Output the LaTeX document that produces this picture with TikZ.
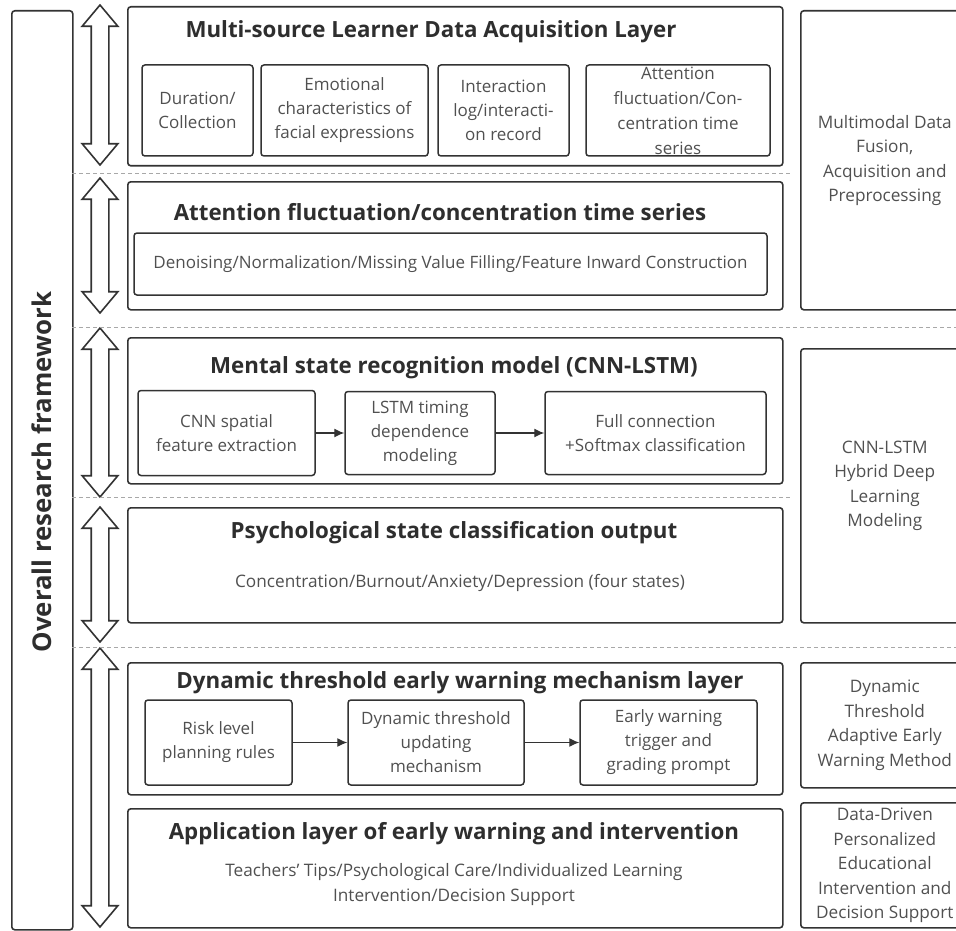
\documentclass[tikz,border=0pt]{standalone}
\usepackage{fontspec}
\setmainfont{Open Sans}
\usetikzlibrary{arrows.meta, positioning, shapes.arrows}

\definecolor{edge}{HTML}{333333}
\definecolor{ink}{HTML}{2E2E2E}
\definecolor{soft}{HTML}{505050}
\definecolor{sep}{HTML}{A8A8A8}

\begin{document}
\begin{tikzpicture}[
    x=1pt, y=-1pt,
    layer/.style={draw=edge, line width=1.6pt, rounded corners=3pt, minimum width=655pt, anchor=north west, inner sep=0pt},
    part/.style={draw=edge, line width=1.5pt, rounded corners=3pt, align=center, text=soft, inner sep=1pt, font=\fontsize{17}{24}\selectfont},
    side/.style={draw=edge, line width=1.6pt, rounded corners=3pt, anchor=north west, minimum width=168pt, align=center, text=soft, font=\fontsize{17.2}{24.5}\selectfont},
    head/.style={font=\bfseries\fontsize{22.3}{26}\selectfont, text=ink},
    plain/.style={align=center, text=soft, font=\fontsize{17.2}{25}\selectfont},
    updown/.style={double arrow, draw=edge, line width=1.6pt, rotate=90, inner sep=0pt, inner ysep=8pt, double arrow head extend=9pt, double arrow tip angle=80},
    sepline/.style={draw=sep, line width=0.8pt, dash pattern=on 4pt off 3pt},
    >={Latex[length=10pt, width=9pt]}
]
\useasboundingbox (0,0) rectangle (956,931);

\node[draw=edge, line width=1.6pt, rounded corners=3pt, anchor=north west, minimum width=61pt, minimum height=919pt] (frame) at (11,10) {};
\node[rotate=90, font=\bfseries\fontsize{25.8}{28}\selectfont, text=ink] (frameT) at (42,472) {Overall research framework};

\node[updown, minimum height=160pt] (ud1) at (100,85) {};
\node[updown, minimum height=135pt] (ud2) at (100,245.5) {};
\node[updown, minimum height=169pt] (ud3) at (100,412.5) {};
\node[updown, minimum height=135pt] (ud4) at (100,574.5) {};
\node[updown, minimum height=279pt] (ud5) at (100,787.5) {};

\draw[sepline] (72,173) -- (790,173);
\draw[sepline] (72,327) -- (956,327);
\draw[sepline] (72,497) -- (790,497);
\draw[sepline] (72,647) -- (956,647);

\node[layer, minimum height=159pt] (acq) at (127,6) {};
\node[head] (acqT) at (431,32) {Multi-source Learner Data Acquisition Layer};
\node[part, minimum width=111pt, minimum height=91pt] (dur) at (197.5,110.5) {Duration/\\Collection};
\node[part, minimum width=167pt, minimum height=91pt] (emo) at (344.5,110.5) {Emotional\\characteristics of\\facial expressions};
\node[part, minimum width=131pt, minimum height=91pt] (log) at (503.5,110.5) {Interaction\\log/interacti-\\on record};
\node[part, minimum width=184pt, minimum height=91pt, inner ysep=0pt, font=\fontsize{17}{25}\selectfont] (att) at (678,110.5) {Attention\\fluctuation/Con-\\centration time\\series};

\node[layer, minimum height=128pt] (pre) at (127,181) {};
\node[head] (preT) at (440,212) {Attention fluctuation/concentration time series};
\node[part, minimum width=633pt, minimum height=62pt] (den) at (450.5,264) {Denoising/Normalization/Missing Value Filling/Feature Inward Construction};

\node[layer, minimum height=146pt] (rec) at (127,337) {};
\node[head] (recT) at (454,368) {Mental state recognition model (CNN-LSTM)};
\node[part, minimum width=177pt, minimum height=85pt] (cnn) at (226.5,433) {CNN spatial\\feature extraction};
\node[part, minimum width=150pt, minimum height=83pt] (lstm) at (420,433) {LSTM timing\\dependence\\modeling};
\node[part, minimum width=221pt, minimum height=83pt] (full) at (655.5,433) {Full connection\\+Softmax classification};

\node[layer, minimum height=115pt] (cls) at (127,507) {};
\node[head] (clsT) at (454,533) {Psychological state classification output};
\node[plain] (clsS) at (460,583) {Concentration/Burnout/Anxiety/Depression (four states)};

\node[layer, minimum height=132pt] (warn) at (127,662) {};
\node[head] (warnT) at (460,683) {Dynamic threshold early warning mechanism layer};
\node[part, minimum width=147pt, minimum height=85pt] (risk) at (218.5,742.5) {Risk level\\planning rules};
\node[part, minimum width=176pt, minimum height=85pt] (dyn) at (436,742.5) {Dynamic threshold\\updating\\mechanism};
\node[part, minimum width=177pt, minimum height=85pt] (early) at (668.5,742.5) {Early warning\\trigger and\\grading prompt};

\node[layer, minimum height=119pt] (app) at (127,808) {};
\node[head] (appT) at (454,834) {Application layer of early warning and intervention};
\node[plain] (appS) at (454,884.5) {Teachers' Tips/Psychological Care/Individualized Learning\\Intervention/Decision Support};

\node[side, minimum height=299pt] (fuse) at (800,10) {Multimodal Data\\Fusion,\\Acquisition and\\Preprocessing};
\node[side, minimum height=274pt] (deep) at (800,348) {CNN-LSTM\\Hybrid Deep\\Learning\\Modeling};
\node[side, minimum height=125pt] (adapt) at (800,662) {Dynamic\\Threshold\\Adaptive Early\\Warning Method};
\node[side, minimum height=125pt] (edu) at (800,802) {Data-Driven\\Personalized\\Educational\\Intervention and\\Decision Support};

\foreach \a/\b in {cnn/lstm, lstm/full, risk/dyn, dyn/early}
  \draw[->, draw=edge, line width=1.2pt] (\a) -- (\b);

\end{tikzpicture}
\end{document}
